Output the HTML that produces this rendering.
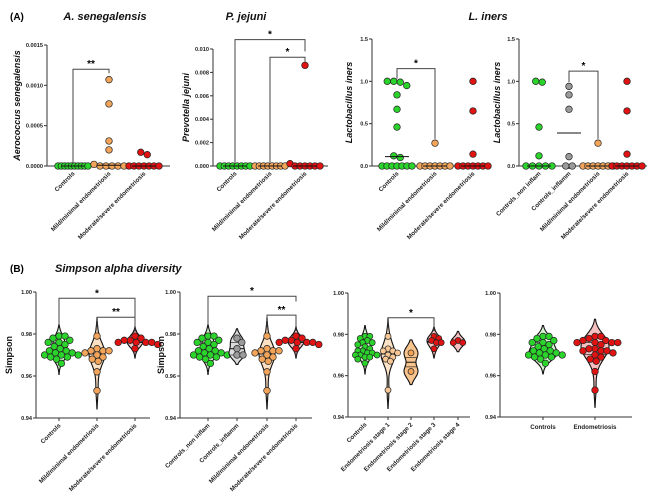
<!DOCTYPE html>
<html><head><meta charset="utf-8">
<style>
html,body{margin:0;padding:0;background:#fff;}
svg{display:block;font-family:"Liberation Sans",Arial,sans-serif;}
.tk{font-size:5.6px;font-weight:bold;fill:#222;}
.cat{font-size:6.2px;font-weight:bold;fill:#222;}
.ttl{font-size:11px;font-weight:bold;font-style:italic;fill:#111;}
.yt{font-size:9px;font-weight:bold;fill:#111;}
</style></head>
<body>
<svg id="fig" width="669" height="501" viewBox="0 0 669 501">
<text x="10" y="20" font-size="10" font-weight="bold">(A)</text>
<text class="ttl" x="105" y="20" text-anchor="middle">A. senegalensis</text>
<text class="ttl" x="246" y="20" text-anchor="middle">P. jejuni</text>
<text class="ttl" x="488" y="20" text-anchor="middle">L. iners</text>
<text x="10" y="272" font-size="10" font-weight="bold">(B)</text>
<text class="ttl" x="55" y="272">Simpson alpha diversity</text>
</svg>
<script>
// ---- data ----
const catsA1 = ["Controls","Mild/minimal endometriosis","Moderate/severe endometriosis"];
const a1Controls = [0,0,0,0,0,0,0,0,0,0];
const a1Mild = [0.00107,0.00077,0.00031,0.0002,0.00002,0,0,0,0,0];
const a1Mod = [0.00017,0.00014,0,0,0,0,0,0,0];
const ticksA1 = ["0.0000","0.0005","0.0010","0.0015"];
const a2Controls = [0,0,0,0,0,0,0,0];
const a2Mild = [0,0,0,0,0,0,0,0];
const a2Mod = [0.0086,0.0002,0,0,0,0,0,0];
const ticksA2 = ["0.000","0.002","0.004","0.006","0.008","0.010"];
const a3Controls = [1.0,1.0,0.99,0.95,0.84,0.67,0.46,0.12,0.1,0,0,0,0,0,0,0];
const a3Mild = [0.27,0,0,0,0,0,0,0];
const a3Mod = [1.0,0.65,0.14,0,0,0,0,0,0,0];
const ticksL = ["0.0","0.5","1.0","1.5"];
const catsA4 = ["Controls_non inflam","Controls_inflamm","Mild/minimal endometriosis","Moderate/severe endometriosis"];
const a4NonInfl = [1.0,0.99,0.46,0.12,0,0,0,0,0];
const a4Infl = [0.94,0.84,0.67,0.11,0,0];
const ticksS = ["0.94","0.96","0.98","1.00"];
const sControls = [0.979,0.978,0.979,0.976,0.976,0.975,0.974,0.973,0.972,0.971,0.971,0.970,0.970,0.970,0.969,0.969,0.968,0.966,0.977,0.972];
const sMild = [0.979,0.973,0.972,0.972,0.972,0.971,0.970,0.969,0.968,0.967,0.962,0.953];
const sMod = [0.979,0.978,0.977,0.977,0.976,0.976,0.976,0.976,0.975,0.973];
const sInfl = [0.978,0.976,0.973,0.970,0.970];
const sStage1 = [0.979,0.973,0.972,0.972,0.971,0.970,0.969,0.968,0.967,0.953];
const sStage2 = [0.971,0.962];
const sStage3 = [0.979,0.978,0.977,0.976,0.976,0.973];
const sStage4 = [0.976,0.976,0.977];
const catsB3 = ["Controls","Endometriosis stage 1","Endometriosis stage 2","Endometriosis stage 3","Endometriosis stage 4"];
const catsB4 = ["Controls","Endometriosis"];

const GREEN="#2bd42b",ORANGE="#f2a55a",RED="#e01212",GREY="#9a9a9a",LORANGE="#f7c896";
const NS="http://www.w3.org/2000/svg";
const svg=document.getElementById('fig');
function mk(tag,attrs,parent){const e=document.createElementNS(NS,tag);for(const k in attrs)e.setAttribute(k,attrs[k]);(parent||svg).appendChild(e);return e;}
function median(a){const s=[...a].sort((x,y)=>x-y);const n=s.length;return n%2?s[(n-1)/2]:(s[n/2-1]+s[n/2])/2;}
function quant(a,q){const s=[...a].sort((x,y)=>x-y);const p=(s.length-1)*q;const i=Math.floor(p);return s[i]+(s[Math.min(i+1,s.length-1)]-s[i])*(p-i);}

function panel(o){
  const g=mk('g',{});
  
  
  const y=v=>o.y0+(v-o.vmin)/(o.vmax-o.vmin)*(o.y1-o.y0);
  const ya=mk('line',{x1:o.ax,y1:o.y1,x2:o.ax,y2:o.y0,stroke:'#333','stroke-width':1},g);
  
  const xa=mk('line',{x1:o.ax,y1:o.y0,x2:o.axEnd,y2:o.y0,stroke:'#333','stroke-width':1},g);
  
  o.ticks.forEach(t=>{const v=parseFloat(t),yy=y(v);
    mk('line',{x1:o.ax-3,y1:yy,x2:o.ax,y2:yy,stroke:'#333'},g);
    const tx=mk('text',{x:o.ax-4,y:yy+2,'text-anchor':'end',class:'tk'},g);tx.textContent=t;
    });
  if(o.ytitle){const t=mk('text',{x:o.ytx,y:(o.y0+o.y1)/2,'text-anchor':'middle',class:'yt','font-style':o.italic?'italic':'normal',transform:`rotate(-90 ${o.ytx} ${(o.y0+o.y1)/2})`},g);t.textContent=o.ytitle;
    }
  o.groups.forEach((gr,i)=>{
    const cx=o.xs[i];
    mk('line',{x1:cx,y1:o.y0,x2:cx,y2:o.y0+3,stroke:'#333'},g);
    const lab=mk('text',{x:cx+2,y:o.y0+8,'text-anchor':'end',class:'cat',transform:`rotate(${o.rot} ${cx+2} ${o.y0+8})`},g);
    if(o.rot===0){lab.setAttribute('text-anchor','middle');lab.setAttribute('x',cx);lab.setAttribute('y',o.y0+12);lab.removeAttribute('transform');lab.setAttribute('font-size','7.5');}
    lab.textContent=o.cats[i];
    
    if(o.violin){
      const vals=gr.v,mean=vals.reduce((a,b)=>a+b)/vals.length;
      const sd=Math.max(0.0022,0.7*Math.sqrt(vals.reduce((s,v)=>s+(v-mean)**2,0)/vals.length));
      const lo=Math.min(...vals)-2*sd,hi=Math.max(...vals)+2*sd,N=40;const d=[];
      for(let k=0;k<=N;k++){const v=lo+(hi-lo)*k/N;let s=0;vals.forEach(u=>s+=Math.exp(-0.5*((v-u)/sd)**2));d.push([v,s]);}
      const mx=Math.max(...d.map(p=>p[1]));const w=o.vw||9;
      let p='';d.forEach((q,k)=>{p+=(k?'L':'M')+(cx+q[1]/mx*w).toFixed(1)+','+y(q[0]).toFixed(1);});
      for(let k=N;k>=0;k--)p+='L'+(cx-d[k][1]/mx*w).toFixed(1)+','+y(d[k][0]).toFixed(1);
      const vp=mk('path',{d:p+'Z',fill:gr.fill,stroke:'#111','stroke-width':1.1},g);
      
      [0.25,0.5,0.75].forEach(q=>{const qv=quant(vals,q);let dd=0;vals.forEach(u=>dd+=Math.exp(-0.5*((qv-u)/sd)**2));const hw=dd/mx*w;
        mk('line',{x1:cx-hw,y1:y(qv),x2:cx+hw,y2:y(qv),stroke:'#111','stroke-width':q===0.5?1:0.6},g);});
      // beeswarm
      const placed=[];const minD=o.minD||5.6;
      [...vals].sort((a,b)=>b-a).forEach(v=>{const yy=y(v);let off=0;
        for(let k=0;k<40;k++){const cand=(k===0?0:(k%2?1:-1)*Math.ceil(k/2))*1.2;
          if(placed.every(pp=>Math.hypot(pp[0]-cand,pp[1]-yy)>=minD)){off=cand;break;}}
        placed.push([off,yy]);
        const ci=mk('circle',{cx:cx+off,cy:yy,r:o.r||3.3,fill:gr.c,stroke:'#222','stroke-width':0.7},g);
        });
    } else {
      const sorted=[...gr.v].sort((a,b)=>b-a).map(v=>y(v));
      const clusters=[];
      sorted.forEach(yy=>{const c=clusters[clusters.length-1];if(c&&Math.abs(yy-c[0])<5)c.push(yy);else clusters.push([yy]);});
      const maxW=30,dx=6.5;
      clusters.forEach(c=>{const k=c.length;const sp=k>1?Math.min(dx,maxW/(k-1)):0;
        c.forEach((yy,j)=>{const off=(j-(k-1)/2)*sp;
          const ci=mk('circle',{cx:cx+off,cy:yy,r:3.3,fill:gr.c,stroke:'#222','stroke-width':0.7},g);
          });});
      const m=median(gr.v);mk('line',{x1:cx-12,y1:y(m),x2:cx+12,y2:y(m),stroke:'#111','stroke-width':1},g);
    }
  });
  (o.br||[]).forEach(b=>{
    const x1=o.xs[b[0]],x2=o.xs[b[1]],yb=y(b[2]);
    const pth=mk('path',{d:`M${x1},${y(b[3])}V${yb}H${x2}V${y(b[4])}`,fill:'none',stroke:'#444','stroke-width':1},g);
    
    const st=mk('text',{x:(x1+x2)/2,y:yb-2,'text-anchor':'middle','font-size':10,'font-weight':'bold'},g);st.textContent=b[5];
    
  });
}
panel({name:'panel-a-senegalensis',ax:47,axEnd:170,y0:166,y1:45,vmin:0,vmax:0.0015,ticks:ticksA1,xs:[73,109,144],cats:catsA1,rot:-45,ytitle:'Aerococcus senegalensis',ytx:20,italic:1,
 groups:[{v:a1Controls,c:GREEN},{v:a1Mild,c:ORANGE},{v:a1Mod,c:RED}],br:[[0,1,0.0012,0.00003,0.00115,'**']]});
panel({name:'panel-p-jejuni',ax:213,axEnd:328,y0:166,y1:49,vmin:0,vmax:0.010,ticks:ticksA2,xs:[235,270,305],cats:catsA1,rot:-45,ytitle:'Prevotella jejuni',ytx:189,italic:1,
 groups:[{v:a2Controls,c:GREEN},{v:a2Mild,c:ORANGE},{v:a2Mod,c:RED}],br:[[0,2,0.0108,0.0003,0.0098,'*'],[1,2,0.0093,0.0003,0.0089,'*']]});
panel({name:'panel-l-iners',ax:372,axEnd:487,y0:166,y1:39,vmin:0,vmax:1.5,ticks:ticksL,xs:[397,435,473],cats:catsA1,rot:-45,ytitle:'Lactobacillus iners',ytx:352,italic:1,
 groups:[{v:a3Controls,c:GREEN},{v:a3Mild,c:ORANGE},{v:a3Mod,c:RED}],br:[[0,1,1.15,1.03,0.32,'*']]});
panel({name:'panel-l-iners-inflam',ax:519,axEnd:647,y0:166,y1:39,vmin:0,vmax:1.5,ticks:ticksL,xs:[539,569,598,627],cats:catsA4,rot:-45,ytitle:'Lactobacillus iners',ytx:500,italic:1,
 groups:[{v:a4NonInfl,c:GREEN},{v:a4Infl,c:GREY},{v:a3Mild,c:ORANGE},{v:a3Mod,c:RED}],br:[[1,2,1.12,0.99,0.32,'*']]});
panel({name:'panel-simpson-3groups',ax:36,axEnd:150,y0:418,y1:292,vmin:0.94,vmax:1.0,ticks:ticksS,xs:[59,97,135],cats:catsA1,rot:-45,ytitle:'Simpson',ytx:12,violin:1,vw:8,
 groups:[{v:sControls,c:GREEN,fill:'#d6f5d0'},{v:sMild,c:ORANGE,fill:'#fbe0c4'},{v:sMod,c:RED,fill:'#f6c0c0'}],br:[[0,2,0.997,0.984,0.981,'*'],[1,2,0.988,0.984,0.9815,'**']]});
panel({name:'panel-simpson-inflam',ax:180,axEnd:312,y0:418,y1:292,vmin:0.94,vmax:1.0,ticks:ticksS,xs:[208,237,267,296],cats:catsA4,rot:-45,ytitle:'Simpson',ytx:164,violin:1,vw:8,
 groups:[{v:sControls,c:GREEN,fill:'#d6f5d0'},{v:sInfl,c:GREY,fill:'#dcdcdc'},{v:sMild,c:ORANGE,fill:'#fbe0c4'},{v:sMod,c:RED,fill:'#f6c0c0'}],br:[[0,3,0.998,0.984,0.9955,'*'],[2,3,0.989,0.984,0.9815,'**']]});
panel({name:'panel-simpson-stages',ax:348,axEnd:470,y0:417,y1:293,vmin:0.94,vmax:1.0,ticks:ticksS,xs:[365,388,411,434,458],cats:catsB3,rot:-45,violin:1,vw:7,minD:4.6,r:3,
 groups:[{v:sControls,c:GREEN,fill:'#d6f5d0'},{v:sStage1,c:LORANGE,fill:'#fbe3c8'},{v:sStage2,c:ORANGE,fill:'#f7c48e'},{v:sStage3,c:RED,fill:'#f6c0c0'},{v:sStage4,c:RED,fill:'#f6c0c0'}],br:[[1,3,0.988,0.984,0.9815,'*']]});
panel({name:'panel-simpson-2groups',ax:500,axEnd:632,y0:417,y1:293,vmin:0.94,vmax:1.0,ticks:ticksS,xs:[543,595],cats:catsB4,rot:0,violin:1,vw:14,
 groups:[{v:sControls,c:GREEN,fill:'#d6f5d0'},{v:sMild.concat(sMod),c:RED,fill:'#f6c0c0'}]});
</script>
</body></html>
